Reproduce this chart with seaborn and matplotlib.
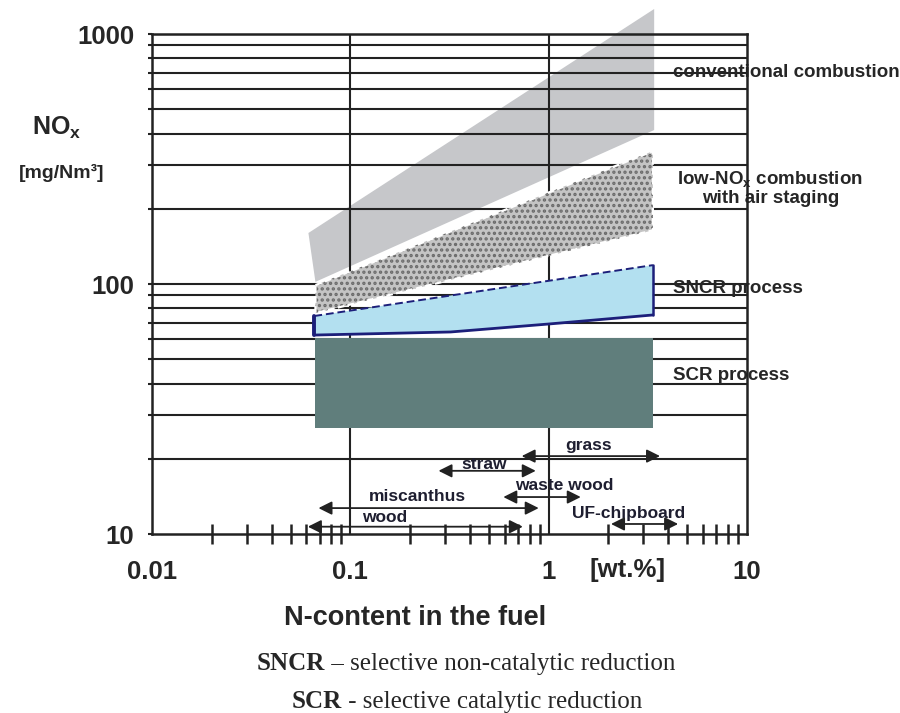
import numpy as np
import matplotlib.pyplot as plt
import seaborn as sns
from matplotlib.ticker import LogLocator, NullFormatter

sns.set_style("white")
plt.rcParams['font.family'] = ['Liberation Sans', 'DejaVu Sans']
plt.rcParams['mathtext.fontset'] = 'custom'
plt.rcParams['mathtext.rm'] = 'Liberation Sans'
plt.rcParams['mathtext.bf'] = 'Liberation Sans:bold'
plt.rcParams['hatch.linewidth'] = 1.6

# ---- data ----
# NOx emission bands (x = N content in wt.%, y = NOx in mg/Nm3)
conv_x = [0.0614, 3.40, 3.40, 0.0666]
conv_y = [160, 1259, 413, 102]

lownox_x = [0.0666, 3.35, 3.35, 0.0666]
lownox_y = [99, 340, 164, 76.5]

sncr_top_x = [0.0658, 3.35]
sncr_top_y = [74.5, 119]
sncr_bot_x = [0.0658, 0.32, 1.0, 3.35]
sncr_bot_y = [62.5, 64.3, 69.2, 75.2]

scr_x = [0.0666, 3.35]
scr_y = [26.5, 61]

# fuel N-content ranges
fuels = ["wood", "miscanthus", "straw", "grass", "waste wood", "UF-chipboard"]
fuel_lo = [0.061, 0.069, 0.278, 0.73, 0.59, 2.06]
fuel_hi = [0.74, 0.89, 0.86, 3.64, 1.45, 4.49]
fuel_y = [10.7, 12.7, 17.9, 20.5, 14.06, 10.97]

grid_y = [20, 30, 40, 50, 60, 70, 80, 90,
          100, 200, 300, 400, 500, 600, 700, 800, 900, 1000]
x_ticks = [0.01, 0.1, 1, 10]
x_labels = ["0.01", "0.1", "1", "10"]
y_labels = {10: "10", 100: "100", 1000: "1000"}

# ---- figure ----
fig = plt.figure(figsize=(9, 7.13), dpi=100)
ax = fig.add_axes([0.169, 0.251, 0.6611, 0.7013])
ax.set_xscale("log")
ax.set_yscale("log")
ax.set_xlim(0.01, 10)
ax.set_ylim(10, 1000)

line_c = "#222222"

# conventional combustion sits under the grid
ax.fill(conv_x, conv_y, color="#c6c7ca", lw=0, zorder=0.5, clip_on=False)

# grid
for y in grid_y:
    ax.axhline(y, color=line_c, lw=1.5, zorder=1)
for x in [0.1, 1]:
    ax.axvline(x, color=line_c, lw=1.5, zorder=1)

# low-NOx band, speckled
ax.fill(lownox_x, lownox_y, facecolor="#c4c4c4", edgecolor="#6a6a6a",
        hatch="...", lw=0, zorder=2)
ax.fill(lownox_x, lownox_y, facecolor="none", edgecolor="white",
        lw=1.6, ls=(0, (3, 1.5)), zorder=2.1)

# SNCR band
sncr_px = sncr_top_x + sncr_bot_x[::-1]
sncr_py = sncr_top_y + sncr_bot_y[::-1]
navy = "#1c1f7a"
ax.fill(sncr_px, sncr_py, color="#b3e0f0", lw=0, zorder=2)
sns.lineplot(x=sncr_bot_x, y=sncr_bot_y, color=navy, lw=2, ax=ax, zorder=3)
sns.lineplot(x=sncr_top_x, y=sncr_top_y, color=navy, lw=1.4, ls=(0, (4, 2)),
             ax=ax, zorder=3)
ax.plot([sncr_top_x[0], sncr_bot_x[0]], [sncr_top_y[0], sncr_bot_y[0]],
        color=navy, lw=2.8, zorder=3)
ax.plot([sncr_top_x[-1], sncr_bot_x[-1]], [sncr_top_y[-1], sncr_bot_y[-1]],
        color=navy, lw=1.8, zorder=3)

# SCR band
ax.fill_between(scr_x, scr_y[0], scr_y[1], color="#607e7c", lw=0, zorder=2)

# fuel arrows
label_pos = [(0.149, 11.6), (0.218, 14.1), (0.47, 18.9),
             (1.59, 22.7), (1.19, 15.7), (2.54, 12.1)]
for name, lo, hi, y, (lx, ly) in zip(fuels, fuel_lo, fuel_hi, fuel_y, label_pos):
    ax.annotate("", xy=(hi, y), xytext=(lo, y),
                arrowprops=dict(arrowstyle="<|-|>", color=line_c, lw=1.3,
                                mutation_scale=20, shrinkA=0, shrinkB=0),
                zorder=4)
    ax.text(lx, ly, name, ha="center", va="center", fontsize=12.5,
            fontweight="bold", color="#1e1e30", zorder=5)

# spines and ticks
for s in ax.spines.values():
    s.set_color(line_c)
    s.set_linewidth(1.8)
    s.set_zorder(4)

ax.set_xticks(x_ticks)
ax.set_xticklabels(x_labels, fontsize=18.5, fontweight="bold")
ax.xaxis.set_minor_locator(LogLocator(base=10, subs=np.arange(2, 10)))
ax.xaxis.set_minor_formatter(NullFormatter())
ax.tick_params(axis="x", which="major", length=0, pad=19)
ax.tick_params(axis="x", which="minor", direction="inout", length=15,
               width=1.8, color=line_c, bottom=True)

ax.set_yticks(grid_y + [10])
ax.set_yticklabels([y_labels.get(v, "") for v in grid_y + [10]],
                   fontsize=18.5, fontweight="bold")
ax.yaxis.set_minor_locator(plt.NullLocator())
ax.tick_params(axis="y", which="major", direction="out", length=3,
               width=1.5, color=line_c, pad=10, left=True)

ax.text(2.5, -0.072, "[wt.%]", transform=ax.get_xaxis_transform(),
        ha="center", va="center", fontsize=18.5, fontweight="bold")

# axis titles
fig.text(0.063, 0.82, r"NO$_\mathbf{x}$", ha="center", va="center",
         fontsize=18, fontweight="bold")
fig.text(0.068, 0.758, "[mg/Nm³]", ha="center", va="center",
         fontsize=14, fontweight="bold")
fig.text(0.461, 0.133, "N-content in the fuel", ha="center", va="center",
         fontsize=19.5, fontweight="bold")

# band labels
ax.text(0.748, 0.899, "conventional combustion", transform=fig.transFigure,
        ha="left", va="center", fontsize=13.5, fontweight="bold")
ax.text(0.856, 0.736, "low-NO$_\\mathbf{x}$ combustion\nwith air staging",
        transform=fig.transFigure, ha="center", va="center", fontsize=13.5,
        fontweight="bold", linespacing=0.95)
ax.text(0.748, 0.595, "SNCR process", transform=fig.transFigure,
        ha="left", va="center", fontsize=13.5, fontweight="bold")
ax.text(0.748, 0.474, "SCR process", transform=fig.transFigure,
        ha="left", va="center", fontsize=13.5, fontweight="bold")

# captions
serif = ["Liberation Serif", "DejaVu Serif"]
t1 = fig.text(0.2856, 0.0603, "SNCR", family=serif, fontsize=18,
              fontweight="bold", va="baseline")
fig.add_artist(plt.Annotation(" – selective non-catalytic reduction", xy=(1, 0),
                              xycoords=t1, va="bottom", family=serif,
                              fontsize=18))
t2 = fig.text(0.3244, 0.007, "SCR", family=serif, fontsize=18,
              fontweight="bold", va="baseline")
fig.add_artist(plt.Annotation(" - selective catalytic reduction", xy=(1, 0),
                              xycoords=t2, va="bottom", family=serif,
                              fontsize=18))

fig.savefig("out.png", dpi=100)
